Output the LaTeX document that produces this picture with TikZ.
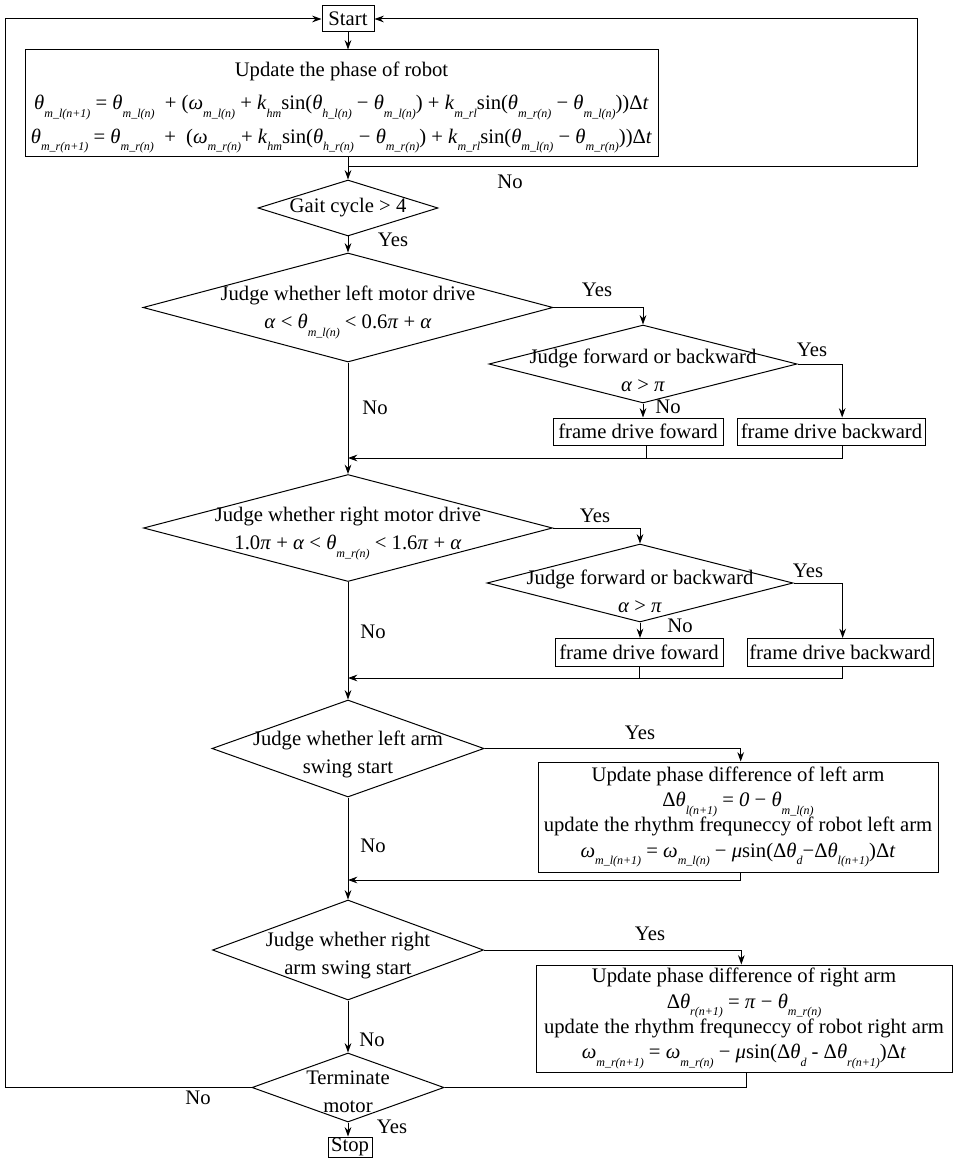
\documentclass[tikz,border=0pt]{standalone}
\usepackage{fontspec}
\setmainfont{Liberation Serif}
\usetikzlibrary{shapes.geometric}
\usetikzlibrary{arrows.meta}

\newcommand{\vth}{\textit{θ}}
\newcommand{\vom}{\textit{ω}}
\newcommand{\val}{\textit{α}}
\newcommand{\vpi}{\textit{π}}
\newcommand{\vmu}{\textit{μ}}
\newcommand{\sbx}[1]{\raisebox{-0.8ex}{\fontsize{9pt}{9pt}\selectfont\itshape #1}}
% text of a diamond, #1 = how far it sits below the centre
\newcommand{\dtxt}[3][0pt]{\makebox[0pt]{\raisebox{\dimexpr-0.25em-#1\relax}[0pt][0pt]{\begin{tabular}{@{}c@{}}#2\\#3\end{tabular}}}}

\begin{document}
\begin{tikzpicture}[x=0.75pt, y=-0.75pt,
box/.style={draw, rectangle, inner sep=0pt, align=center},
dec/.style={draw, diamond, inner sep=0pt},
sz/.style 2 args={minimum width=#1*0.75pt, minimum height=#2*0.75pt},
flow/.style={>={Stealth[length=7pt,width=5pt]},->},
line width=0.75pt, font=\fontsize{15.5pt}{21pt}\selectfont]

\useasboundingbox (0,0) rectangle (957,1162);
\pgfmathsetmacro{\sx}{348}

% MAIN COLUMN
\node[box, sz={52}{26}] (start) at (\sx,19) {Start};
\node[box, sz={633}{107}, font=\fontsize{15.5pt}{25pt}\selectfont] (upd) at (341.5,103.5)
{\rule{0pt}{17pt}Update the phase of robot\\
\vth\sbx{m\_l(n+\textit{1})} = \vth\sbx{m\_l(n)}\enspace + (\vom\sbx{m\_l(n)} + \textit{k}\sbx{hm}sin(\vth\sbx{h\_l(n)} − \vth\sbx{m\_l(n)}) + \textit{k}\sbx{m\_rl}sin(\vth\sbx{m\_r(n)} − \vth\sbx{m\_l(n)}))Δ\textit{t}\\
\vth\sbx{m\_r(n+\textit{1})} = \vth\sbx{m\_r(n)}\enspace +\enspace(\vom\sbx{m\_r(n)}+ \textit{k}\sbx{hm}sin(\vth\sbx{h\_r(n)} − \vth\sbx{m\_r(n)}) + \textit{k}\sbx{m\_rl}sin(\vth\sbx{m\_l(n)} − \vth\sbx{m\_r(n)}))Δ\textit{t}};
\node[dec, sz={180}{56}] (gait) at (\sx,208) {\makebox[0pt]{Gait cycle > 4}};
\node[dec, sz={410}{109}] (lmot) at (\sx,307.5)
{\dtxt[1.5pt]{Judge whether left motor drive}{\val{} < \vth\sbx{m\_l(n)} < 0.6\vpi{} + \val}};
\node[dec, sz={409}{107}] (rmot) at (\sx,528)
{\dtxt[2pt]{Judge whether right motor drive}{1.0\vpi{} + \val{} < \vth\sbx{m\_r(n)} < 1.6\vpi{} + \val}};
\node[dec, sz={272}{97}] (larm) at (\sx,748.5) {\dtxt[3.5pt]{Judge whether left arm}{swing start}};
\node[dec, sz={271}{100}] (rarm) at (\sx,950) {\dtxt[3.5pt]{Judge whether right}{arm swing start}};
\node[dec, sz={192}{69}] (term) at (\sx,1087.5) {\dtxt[3.5pt]{Terminate}{motor}};
\node[box, sz={44}{20}] (stop) at (350,1147) {Stop};

% LEFT MOTOR BRANCH
\node[dec, sz={308}{78}] (lfb) at (643,364) {\dtxt[6pt]{Judge forward or backward}{\val{} > \vpi}};
\node[box, sz={170}{27}] (lfwd) at (638,431.5) {frame drive foward};
\node[box, sz={188}{27}] (lbwd) at (831.5,431.5) {frame drive backward};

% RIGHT MOTOR BRANCH
\node[dec, sz={306}{78}] (rfb) at (640,583) {\dtxt[7pt]{Judge forward or backward}{\val{} > \vpi}};
\node[box, sz={168}{28}] (rfwd) at (639,652.5) {frame drive foward};
\node[box, sz={186}{28}] (rbwd) at (840,652.5) {frame drive backward};

% ARM UPDATES
\node[box, sz={400}{110}, font=\fontsize{15.5pt}{19pt}\selectfont] (lupd) at (738,817)
{Update phase difference of left arm\\
Δ\vth\sbx{l(n+\textit{1})} = \textit{0} − \vth\sbx{m\_l(n)}\\
update the rhythm frequneccy of robot left arm\\
\vom\sbx{m\_l(n+\textit{1})} = \vom\sbx{m\_l(n)} − \vmu sin(Δ\vth\sbx{d}−Δ\vth\sbx{l(n+\textit{1})})Δ\textit{t}};
\node[box, sz={416}{107}, font=\fontsize{15.5pt}{19pt}\selectfont] (rupd) at (744,1018.5)
{Update phase difference of right arm\\
Δ\vth\sbx{r(n+\textit{1})} = \vpi{} − \vth\sbx{m\_r(n)}\\
update the rhythm frequneccy of robot right arm\\
\vom\sbx{m\_r(n+\textit{1})} = \vom\sbx{m\_r(n)} − \vmu sin(Δ\vth\sbx{d} - Δ\vth\sbx{r(n+\textit{1})})Δ\textit{t}};

% LABELS
\node (nogait) at (510,182) {No};
\node (yesgait) at (393,240) {Yes};
\node (yeslmot) at (597,290) {Yes};
\node (nolmot) at (375,408) {No};
\node (yeslfb) at (812,350) {Yes};
\node (nolfb) at (668,407) {No};
\node (yesrmot) at (595,516) {Yes};
\node (normot) at (373,632) {No};
\node (yesrfb) at (808,571) {Yes};
\node (norfb) at (680,626) {No};
\node (yeslarm) at (640,733) {Yes};
\node (nolarm) at (373,846) {No};
\node (yesrarm) at (650,934) {Yes};
\node (norarm) at (372,1040) {No};
\node (noterm) at (198,1098) {No};
\node (yesterm) at (392,1127) {Yes};

% SPINE
\draw[flow] (start.south) -- (start |- upd.north);
\draw[flow] (upd.south -| start) -- (gait.north);
\draw[flow] (gait.south) -- (lmot.north);
\draw[flow] (lmot.south) -- (rmot.north);
\draw[flow] (rmot.south) -- (larm.north);
\draw[flow] (larm.south) -- (rarm.north);
\draw[flow] (rarm.south) -- (term.north);
\draw[flow] (term.south) -- (term.south |- stop.north);

% LOOPS BACK TO START
\coordinate (gloop) at (917,167);
\draw[flow] (gloop -| start) -- (gloop) |- (start.east);
\coordinate (tloop) at (5,1087.5);
\draw[flow] (term.west) -- (tloop) |- (start.west);

% left motor
\coordinate (lmrg) at (\sx,458);
\draw[flow] (lmot.east) -| (lfb.north);
\draw[flow] (lfb.east) -| ([xshift=8pt]lbwd.north);
\draw[flow] (lfb.south) -- (lfb.south |- lfwd.north);
\draw ([xshift=6pt]lfwd.south) -- ([xshift=6pt]lfwd.south |- lmrg);
\draw[flow] ([xshift=8pt]lbwd.south) |- (lmrg);

% right motor
\coordinate (rmrg) at (\sx,678);
\draw[flow] (rmot.east) -| (rfb.north);
\draw[flow] (rfb.east) -| ([xshift=2pt]rbwd.north);
\draw[flow] (rfb.south) -- (rfb.south |- rfwd.north);
\draw (rfwd.south) -- (rfwd.south |- rmrg);
\draw[flow] ([xshift=2pt]rbwd.south) |- (rmrg);

% arms
\coordinate (amrg) at (\sx,880);
\draw[flow] (larm.east) -| ([xshift=2pt]lupd.north);
\draw[flow] ([xshift=2pt]lupd.south) |- (amrg);
\draw[flow] (rarm.east) -| ([xshift=-2pt]rupd.north);
\draw ([xshift=2pt]rupd.south) |- (term.east);

\end{tikzpicture}
\end{document}
